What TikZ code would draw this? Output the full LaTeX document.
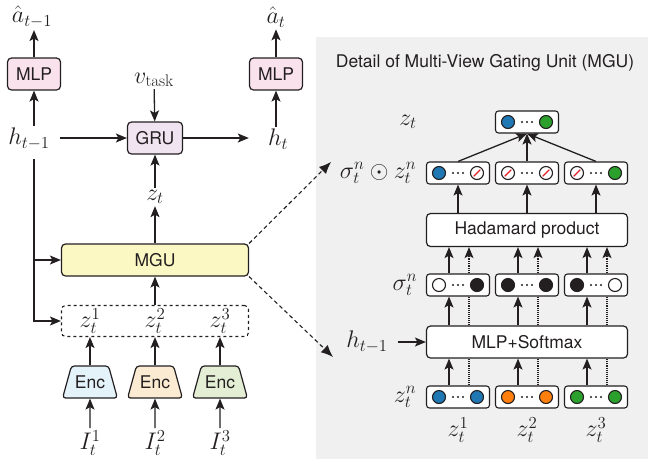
\RequirePackage{fix-cm}
\documentclass[tikz,border=0pt]{standalone}
\usepackage{fontspec}
\setsansfont{TeX Gyre Heros}
\usepackage{amsmath}
\usetikzlibrary{arrows.meta,shapes.geometric,positioning}
\tikzset{>={Stealth[length=11pt,width=9pt,inset=2.5pt]}}
\definecolor{ink}{HTML}{231F20}
\definecolor{mlppink}{HTML}{F9E2EC}
\definecolor{grupink}{HTML}{F0E4F0}
\definecolor{mguyellow}{HTML}{FCF8C4}
\definecolor{encblue}{HTML}{E4F2FA}
\definecolor{encorange}{HTML}{FCEBD3}
\definecolor{encgreen}{HTML}{E3EED4}
\definecolor{panelgray}{HTML}{F0F0F0}
\definecolor{vblue}{HTML}{1F77B4}
\definecolor{vorange}{HTML}{FF7F0E}
\definecolor{vgreen}{HTML}{2CA02C}
\definecolor{slashred}{HTML}{E8202A}
\newcommand{\dotvec}[4]{%
  \node[vecbox] (#1) at (#2) {};
  \draw[cdot, fill=#3] ([xshift=-19pt]#1.center) circle (6.5pt);
  \draw[cdot, fill=#4] ([xshift=19pt]#1.center) circle (6.5pt);
  \foreach \d in {-5,0,5} \fill[ink] ([xshift=\d pt]#1.center) circle (1.2pt);
}
\newcommand{\offdot}[2]{%
  \draw[offline] ([xshift=#2pt]#1.center) ++(-135:4.6pt) -- ++(45:9.2pt);
}

\begin{document}
\begin{tikzpicture}[x=1pt,y=-1pt,color=ink,
                    sans/.style={font=\sffamily\fontsize{17.5}{20}\selectfont},
                    lbl/.style={font=\fontsize{24}{28}\selectfont, inner sep=2pt},
                    blk/.style={sans, draw, rounded corners=4pt, line width=1.2pt, minimum height=32pt},
                    mlpbox/.style={blk, fill=mlppink, minimum width=53pt},
                    enc/.style={sans, draw, trapezium, trapezium angle=70, trapezium stretches=true,
                                rounded corners=3pt, inner xsep=0pt, minimum width=55pt, minimum height=32pt, line width=1.2pt},
                    vecbox/.style={draw, fill=white, rounded corners=3pt, minimum width=63pt, minimum height=22pt, line width=1.1pt},
                    cdot/.style={draw=ink, line width=1.1pt},
                    offline/.style={slashred, line width=1.1pt},
                    arr/.style={->, line width=1.3pt},
                    dotline/.style={densely dotted, line width=1.1pt},
                    zoomline/.style={dashed, dash pattern=on 4pt off 3pt, line width=1.1pt, -{Latex[length=12pt,width=10pt]}},
                   ]
\useasboundingbox (0,0) rectangle (648,459);

% detail panel
\fill[panelgray] (316,37) rectangle (648,459);
\node[sans] (title) at (485,63) {Detail of Multi-View Gating Unit (MGU)};

% recurrent part
\node[mlpbox] (mlpL) at (34,74) {MLP};
\node[lbl] (ahatL) at (32,17) {$\hat{a}_{t-1}$};
\node[lbl] (hprev) at (29,139) {$h_{t-1}$};
\node[blk, fill=grupink, minimum width=55pt] (gru) at (155,138) {GRU};
\node[lbl] (vtask) at (154,80) {$v_{\mathrm{task}}$};
\node[lbl] (hcur) at (278,139) {$h_t$};
\node[mlpbox] (mlpR) at (276,74) {MLP};
\node[lbl] (ahatR) at (276,17) {$\hat{a}_t$};
\node[lbl] (zt) at (155,197) {$z_t$};

\draw[arr] (hprev.north -| mlpL) -- (mlpL.south);
\draw[arr] (mlpL.north) -- (mlpL.north |- ahatL.south);
\draw[arr] (hcur.north -| mlpR) -- (mlpR.south);
\draw[arr] (mlpR.north) -- (mlpR.north |- ahatR.south);
\draw[arr, shorten <=8pt] (hprev.east |- gru) -- (gru.west);
\draw[arr, shorten >=17pt] (gru.east) -- (hcur.west |- gru);
\draw[arr] (vtask) -- (gru);
\draw[arr] (zt) -- (gru);

% views and gating
\node[blk, fill=mguyellow, minimum width=187pt] (mgu) at (155,260) {MGU};
\node[draw, dashed, rounded corners=4pt, line width=1.1pt, minimum width=187pt, minimum height=31pt] (zset) at (155,321) {};
\foreach \i/\x/\col in {1/90/encblue,2/155/encorange,3/220/encgreen}{
  \node[lbl] (zv\i) at (\x,321) {$z_t^{\i}$};
  \node[enc, fill=\col] (enc\i) at (\x,382) {Enc};
  \node[lbl] (img\i) at (\x,443) {$I_t^{\i}$};
  \draw[arr] (img\i) -- (enc\i.south);
  \draw[arr] (enc\i.north) -- (enc\i.north |- zset.south);
}
\draw[arr] (zset) -- (mgu);
\draw[arr] (mgu) -- (zt);
\draw[arr, shorten <=7pt] (hprev.south -| mlpL) |- (zset.west);
\draw[arr] (mgu.west -| mlpL) -- (mgu.west);

\coordinate (zoomA) at (331,162);
\coordinate (zoomB) at (333,357);
\draw[zoomline] (mgu.north east) -- (zoomA);
\draw[zoomline] (mgu.south east) -- (zoomB);

% detail of MGU
\dotvec{ztop}{527,122}{vblue}{vgreen}
\dotvec{sz1}{458,173}{vblue}{white}   \offdot{sz1}{19}
\dotvec{sz2}{527,173}{white}{white}   \offdot{sz2}{-19} \offdot{sz2}{19}
\dotvec{sz3}{596,173}{white}{vgreen}  \offdot{sz3}{-19}
\node[blk, fill=white, minimum width=201pt, minimum height=33pt] (had) at (527,230) {Hadamard product};
\dotvec{sg1}{458,285}{white}{ink}
\dotvec{sg2}{527,285}{ink}{ink}
\dotvec{sg3}{596,285}{ink}{white}
\node[blk, fill=white, minimum width=201pt] (mlps) at (527,342) {MLP+Softmax};
\dotvec{zn1}{458,397}{vblue}{vblue}
\dotvec{zn2}{527,397}{vorange}{vorange}
\dotvec{zn3}{596,397}{vgreen}{vgreen}

\node[lbl] (ztlab) at (408,122) {$z_t$};
\node[lbl] (szlab) at (378,173) {$\sigma_t^n \odot z_t^n$};
\node[lbl] (sglab) at (405,285) {$\sigma_t^n$};
\node[lbl] (hlab) at (367,342) {$h_{t-1}$};
\node[lbl] (znlab) at (405,397) {$z_t^n$};
\draw[arr, shorten <=8pt] (hlab) -- (mlps);

\foreach \i/\x in {1/458,2/527,3/596}{
  \node[lbl] (zb\i) at (\x,430) {$z_t^{\i}$};
  \coordinate (colL\i) at ([xshift=-9pt]zn\i.center);
  \coordinate (colR\i) at ([xshift=11pt]zn\i.center);
  \draw[arr] (colL\i |- zn\i.north) -- (colL\i |- mlps.south);
  \draw[dotline] (colR\i |- zn\i.north) -- (colR\i |- mlps.south);
  \draw[arr] (colL\i |- mlps.north) -- (colL\i |- sg\i.south);
  \draw[dotline] (colR\i |- mlps.north) -- (colR\i |- sg\i.south);
  \draw[arr] (colL\i |- sg\i.north) -- (colL\i |- had.south);
  \draw[arr, dotline] (colR\i |- sg\i.north) -- (colR\i |- had.south);
  \draw[arr] (sz\i.south |- had.north) -- (sz\i.south);
  \draw[arr] (sz\i.north) -- (ztop.south);
}
\end{tikzpicture}
\end{document}
